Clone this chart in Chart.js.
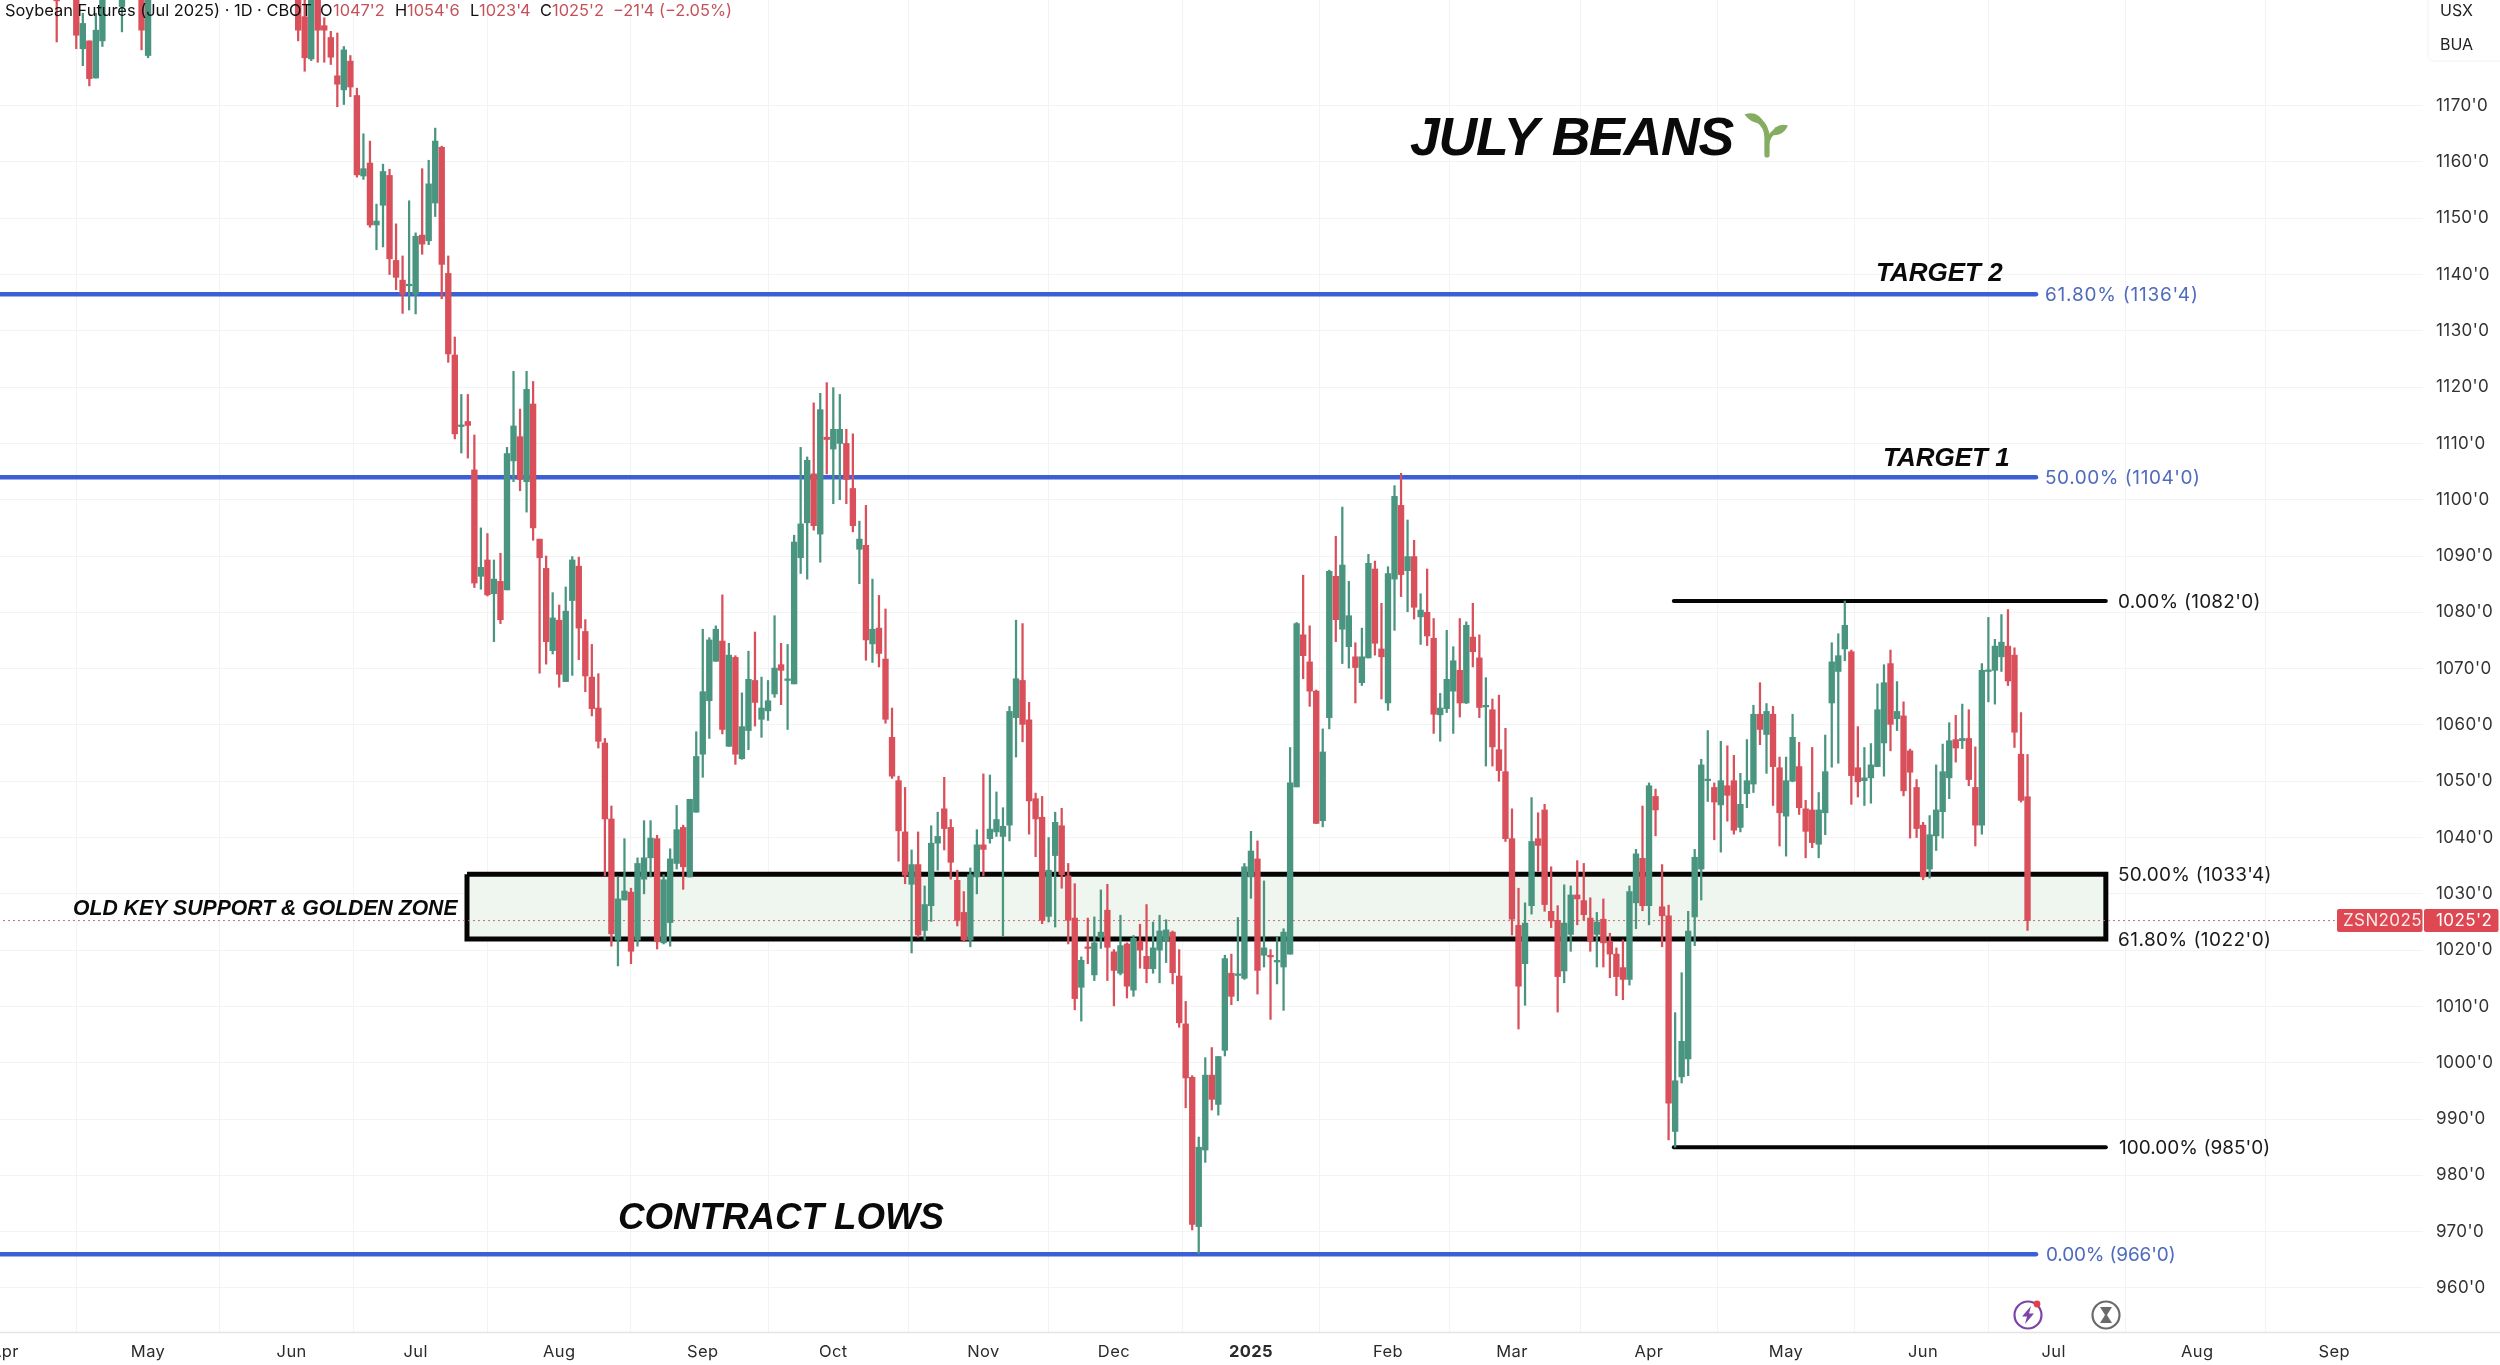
<!DOCTYPE html>
<html>
<head>
<meta charset="utf-8">
<style>html,body{margin:0;padding:0;background:#fff;overflow:hidden}canvas{display:block}</style>
<script src="https://cdn.jsdelivr.net/npm/chart.js@4"></script>
</head>
<body>
<canvas id="c" width="2500" height="1365"></canvas>
<script>
const _ = null;
const opens = [
1192,_,_,1195,1180.1,1181.5,1174.9,1181.5,_,_,
1187.6,_,_,1195,1178.9,_,_,_,_,_,
_,_,_,_,_,_,_,_,_,_,
_,_,_,_,_,_,_,1192,1185.8,1178.3,
1193,1184.2,1182.1,1175.3,1172.8,1177.9,1171.8,1157.5,1159.8,1148.8,
1152.3,1157.6,1142.5,1139,1138,1136.5,1147,1146,1152.7,1162.6,
1140.2,1125.7,1113,1113.9,1105.3,1086.4,1089.3,1083.3,1085.5,1084,
1106.9,1111.2,1103.2,1117,1093,1087.8,1073.2,1078.6,1067.7,1082.1,
1088.2,1076.6,1068.5,1063,1056.8,1043.3,1021.8,1028.9,1030.3,1021.8,
1032.6,1036.4,1039.8,1021.3,1024.9,1035.4,1041.8,1033,1044.5,1054.8,
1064.3,1071.3,1074.9,1056.2,1072,1054,1059,1067.9,1061,1062.5,
1065.5,1070.7,1067.9,1067.3,1089.7,1095.9,1104.6,1093.9,1111.1,1109,
1110,1110,1102,1091.2,1091.9,1074.4,1077.2,1071.7,1057.8,1050.1,
1041,1031.7,1035.2,1023.5,1027.9,1039,1045.1,1041.8,1032.4,1026.7,
1021.8,1033,1038.7,1039.8,1041,1040.2,1042.2,1061.3,1067.9,1060.9,
1046.9,1043.6,1026,1036.8,1042.1,1033.2,1025.7,1013.4,1020.5,1015.6,
1022.3,1027.1,1019.7,1015.9,1021.1,1012.9,1021.6,1018.9,1016.7,1020,
1021.7,1023.2,1015.4,1006.9,997.4,970.9,984.5,997.8,992.6,1002.2,
1015.9,1015.5,1015,1033,1036.2,1019.1,1019,1017.9,1017,1019.3,
1049,1076,1071.2,1066,1043,1061.3,1086.4,1077,1073.9,1072.1,
1067.5,1071.9,1087.7,1073.5,1063.9,1085.9,1099,1087.4,1089.9,1079.2,
1080,1075.4,1061.8,1062.9,1066,1069.7,1063.9,1075.6,1071.9,1063.2,
1062.7,1055.6,1051.7,1039.8,1024.4,1017.6,1027.9,1039.8,1044.9,1026.9,
1025.3,1016.3,1022.8,1029.8,1028.8,1025.7,1022.8,1025.5,1021.6,1019.3,
1016.9,1014.8,1028.4,1036.3,1027.9,1047.3,1027.7,1026.1,987.8,997.5,
1000.7,1025.9,1034.4,1050.1,1048.9,1045.8,1049.2,1050.1,1041.8,1047.8,
1049.5,1061.9,1058.3,1061.9,1052.4,1043.8,1050,1052.6,1045.1,1044.9,
1038.8,1044.4,1063.9,1069.5,1073.5,1073,1052.4,1050.1,1050.6,1052.6,
1056.8,1070.9,1061.1,1061.6,1055.4,1048.9,1042.2,1034.4,1040.3,1044.6,
1050.6,1057.4,1057.2,1057.6,1048.9,1042.2,1069.5,1069.7,1072.1,1074,
1072.4,1054.8,1047.25];
const highs = [
1195,_,_,1198,1186.4,1181.5,1186.4,1195,_,_,
1194,_,_,1197,1197,_,_,_,_,_,
_,_,_,_,_,_,_,_,_,_,
_,_,_,_,_,_,_,1195,1189.5,1195,
1195,1185.6,1183.2,1182.9,1180.5,1178.9,1173.1,1165,1163.7,1152.5,
1159.6,1158.7,1149,1143.3,1153.1,1147.4,1158.8,1160.3,1166,1162.8,
1143.3,1128.9,1118.7,1118.7,1111.5,1095,1094,1089.3,1090.5,1109.3,
1122.8,1116.1,1122.8,1121,1093,1090,1083.5,1081.3,1084.5,1089.9,
1089.8,1078.7,1074.3,1069.1,1057.6,1045.6,1033,1039.8,1031,1036.4,
1043,1043,1040.4,1033.4,1038,1045.7,1042.2,1046.8,1058.8,1077,
1075.5,1077.6,1083.1,1074.5,1072.3,1065.7,1073.1,1076.5,1068.5,1067.9,
1079.4,1074.5,1074.3,1093.7,1109.3,1107.6,1117.2,1118.9,1120.8,1119.9,
1118.7,1112.5,1111.7,1096.2,1099,1085.9,1083,1080.6,1063,1050.9,
1048.9,1037.8,1041,1031.4,1042.1,1044.5,1050.7,1043.2,1034.2,1030.4,
1034.6,1041.4,1051.3,1051.1,1048.1,1045.3,1063.3,1078.6,1078,1064,
1047.9,1047.3,1040,1044.5,1045.2,1035.4,1031.8,1018.8,1025.7,1025.9,
1030.7,1031.7,1020.1,1026.2,1021.3,1022.6,1024.6,1028.1,1025,1026.2,
1025.4,1023.4,1020.1,1010.9,997.7,986.8,1000.9,1002.7,1001.1,1019.1,
1019.3,1025.8,1035.4,1041.1,1039.4,1032.3,1020.1,1022.3,1023.8,1056,
1078.2,1086.6,1077.6,1066.2,1059.3,1087.5,1093.5,1098.7,1085.5,1074.6,
1077.2,1090.3,1089.1,1081.6,1088.1,1102.5,1104.7,1096.4,1092.8,1083.3,
1087.7,1078.9,1065.6,1076.8,1073.9,1078.9,1078.3,1081.6,1076,1068.4,
1064.6,1065.3,1059.4,1045.1,1031,1028.4,1047.1,1044.4,1045.9,1034.8,
1027.9,1031.6,1031.4,1035.9,1035.4,1029.3,1026.7,1029.1,1023,1020.4,
1021.8,1031.4,1037.9,1045.6,1049.7,1048.6,1035.2,1028,1008.9,1016,
1026.9,1037.9,1053.9,1059,1049.7,1057.1,1056.3,1054.6,1051.4,1057.4,
1063.5,1067.5,1063.8,1063.3,1054.3,1054.3,1061.9,1056.9,1046.6,1056,
1048,1058.2,1074.6,1076.2,1082,1073.3,1059.7,1056,1056.7,1067.3,
1070.7,1073.3,1067.7,1064.1,1055.7,1050.3,1042.7,1043.9,1052.9,1056.6,
1060.4,1061.7,1063.7,1062.7,1056.1,1070.9,1079.1,1075.2,1079.6,1080.5,
1073.7,1062.2,1054.75];
const lows = [
1181.3,_,_,1180.1,1177.1,1173.5,1174.9,1180.5,_,_,
1183.1,_,_,1179.9,1178.5,_,_,_,_,_,
_,_,_,_,_,_,_,_,_,_,
_,_,_,_,_,_,_,1181.5,1176.1,1178,
1177.7,1177.7,1177.3,1169.8,1170.2,1171.6,1157.3,1156.9,1148.4,1144.4,
1144.9,1140,1137.3,1133.1,1133.7,1133,1143.6,1145.3,1150.3,1135.7,
1124.4,1110.8,1108.3,1107.4,1084.4,1084.1,1082.9,1074.8,1078,1084,
1103.2,1101.6,1097.8,1092.8,1069.2,1070.8,1072.6,1066.7,1067.7,1068.8,
1071.6,1065.9,1061.6,1055.9,1033.2,1020.7,1017.2,1028.9,1017.6,1020.7,
1030,1033,1020.2,1021.1,1020.7,1034.4,1030.8,1033,1044.5,1050.7,
1057.6,1071.3,1058.4,1056.2,1053,1053.9,1055.6,1059.8,1057.8,1060.8,
1064.9,1063.6,1059.2,1067.3,1086.9,1085.9,1094.6,1088.9,1104.6,1099.3,
1100,1099.3,1094.3,1085.1,1071.5,1071.1,1070.3,1060.3,1050.5,1035.8,
1031.8,1019.5,1022.3,1021.8,1025.1,1034.2,1037.8,1032.6,1024.3,1021.5,
1020.6,1030,1033.2,1039,1040.2,1022.5,1039.4,1054.3,1057,1040.6,
1036.6,1024.7,1025,1024.1,1031,1021.1,1009.4,1007.4,1017.6,1014.6,
1020.3,1014.6,1010.1,1015.6,1011.5,1011.8,1016.8,1014.2,1015.9,1014.2,
1017.8,1014,1006.3,992,970.3,966.1,982.3,991.6,990.7,1001.2,
1010.3,1011,1014.8,1029.2,1012.2,1017,1007.7,1014,1009.3,1019.3,
1049,1068.2,1063.3,1042.5,1041.9,1059.3,1074.8,1070.9,1070.1,1063.9,
1067,1071.9,1072.4,1064.6,1062.6,1076.8,1082.8,1080.1,1078.8,1074.3,
1074.1,1058.5,1057.1,1062.2,1058.5,1061.4,1063.8,1070.3,1061.3,1052.7,
1052.7,1050,1039.3,1022.7,1006,1010.2,1026.4,1034,1026.9,1024,
1009,1014.2,1019.8,1024.5,1025.3,1019.8,1017,1017,1015.1,1011.9,
1011.2,1013.8,1023.8,1027,1024.5,1040.3,1020.6,986.3,985,996.4,
997.7,1020.8,1028.9,1046.4,1039.6,1037.4,1042.9,1040.6,1041,1045.3,
1048,1056.5,1051.4,1045.7,1038.5,1036.7,1049.9,1044.1,1036.4,1038.2,
1036.4,1040.5,1052.5,1053.2,1071.4,1045.9,1047.2,1045.7,1046.1,1052.6,
1050.9,1055.4,1059,1047.4,1039.9,1040,1032.5,1032.8,1037.7,1039.9,
1046.9,1053.4,1055.8,1049.2,1038.5,1040.6,1064.1,1063.7,1069.5,1067,
1056,1046.3,1023.5];
const closes = [
1188.6,_,_,1182.5,1184.6,1174.8,1183.4,1192,_,_,
1192,_,_,1183.4,1195,_,_,_,_,_,
_,_,_,_,_,_,_,_,_,_,
_,_,_,_,_,_,_,1183.4,1178.5,1192,
1183.4,1183.4,1178.6,1173.8,1179.9,1173.3,1157.7,1158.8,1148.8,1149.5,
1158.3,1142.8,1139.5,1136.5,1138.1,1146.8,1145.4,1156.1,1163.7,1141.8,
1125.9,1111.7,1113.2,1113.2,1085.2,1088,1083.1,1085.9,1078.7,1108.2,
1113.1,1103.6,1119.6,1095,1089.7,1074.8,1079,1069,1080.2,1089.3,
1077.2,1068.7,1062.9,1057.1,1043.3,1022.9,1029.1,1030.5,1019.8,1035.4,
1036.4,1039.9,1021.5,1032.5,1036.2,1041.4,1034.8,1046.8,1054.4,1065.9,
1075.1,1077,1059.2,1072.4,1054.8,1059.7,1068.1,1064,1063,1064.3,
1070.1,1069.7,1068,1092.5,1095.7,1107,1095.4,1116,1110.7,1112.5,
1112.5,1103.6,1095.4,1093,1075.1,1077,1072.7,1061,1050.9,1041.2,
1033.3,1035.2,1022.7,1028.1,1039,1040.2,1041.6,1035.6,1025.3,1021.8,
1033.4,1038.7,1037.9,1041.5,1043.2,1042,1062.4,1068.2,1060.1,1046.5,
1043.3,1025.3,1034.2,1042.7,1033.4,1025.3,1011.4,1018.2,1020.3,1021.3,
1023.2,1020.5,1016.4,1020.8,1013.6,1022.1,1020,1016.7,1020.4,1023.4,
1023.6,1016,1007.1,997.3,971.3,985,997.8,993.5,1001.1,1018.5,
1011.8,1015.6,1034.8,1037.6,1016.4,1020.4,1018.8,1018,1023.2,1049.7,
1078,1072.3,1066,1042.5,1055.2,1087.3,1078.7,1088.4,1079.4,1070.2,
1072.1,1088.7,1074.5,1072.1,1086.9,1100.6,1086.7,1089.9,1080.9,1080.4,
1075.8,1061.9,1063,1068.1,1071.4,1063.9,1077.7,1073,1063.1,1063.3,
1056.1,1051.9,1039.8,1025.5,1013.6,1024.8,1039.3,1038.6,1028.1,1025.2,
1015.3,1024.8,1029.8,1029.1,1026.3,1021.6,1025,1021.3,1019.3,1015.3,
1014.8,1030.4,1037.1,1027.9,1049.2,1044.9,1026.1,992.8,996.8,1003.8,
1023.4,1036.5,1052.9,1050.2,1046.3,1050.1,1047.5,1041.3,1045.9,1050.1,
1061.9,1059.2,1062.4,1052.6,1044.4,1050.1,1057.8,1045.3,1041.1,1039.1,
1044.9,1051.7,1071.2,1072.3,1077.7,1051,1049.9,1050.6,1052.9,1062.7,
1067.5,1060.1,1062.4,1048.3,1051.6,1041.6,1033,1040.5,1044.9,1051.7,
1057.2,1055.9,1057.6,1050.3,1042.2,1069.7,1069.6,1074,1074.7,1067.8,
1058.7,1046.6,1025.25];

const monthLabels = ['Apr','May','Jun','Jul','Aug','Sep','Oct','Nov','Dec','2025','Feb','Mar','Apr','May','Jun','Jul','Aug','Sep'];
const monthSessions = [-8,14,36,55,77,99,119,142,162,183,204,223,244,265,286,306,328,349];
const priceTicks = [960,970,980,990,1000,1010,1020,1030,1040,1050,1060,1070,1080,1090,1100,1110,1120,1130,1140,1150,1160,1170];
const blueLevels = [966,1104,1136.5];
const blackLevels = [1082,985];
const zoneLevels = [1033.5,1022];
const lastPrice = 1025.25;

const UP='#4a9580', DOWN='#d9505b';
const ks = opens.map((v,i)=>i).filter(i=>opens[i]!==null);
const colors = ks.map(i=>closes[i]>=opens[i]?UP:DOWN);
const wicks = ks.map(i=>({x:i,y:[lows[i],highs[i]]}));
const bodies = ks.map(i=>({x:i,y:[opens[i],closes[i]]}));
const hline=(y,a,b,color,w)=>({type:'line',data:[{x:a,y},{x:b,y}],borderColor:color,borderWidth:w,pointRadius:0,borderCapStyle:'round',order:4});

const overlay={id:'overlay',
 beforeDraw(chart){chart.ctx.letterSpacing='0.4px';},
 afterDraw(chart){
  const c=chart.ctx; const ya=chart.scales.y;
  c.save();
  c.letterSpacing='0px';
  c.strokeStyle='#e4e4e4';c.lineWidth=1.5;c.beginPath();c.moveTo(0,1332.5);c.lineTo(2500,1332.5);c.stroke();
  c.textBaseline='middle';c.textAlign='left';
  const T=(s,x,y,font,col,ls)=>{c.letterSpacing=(ls||0)+'px';c.font=font;c.fillStyle=col;c.fillText(s,x,y);};
  const INT='"Inter"';
  const BI='italic bold ';const LS='px "Liberation Sans"';
  T('JULY BEANS',1410,140,BI+'53.5'+LS,'#0a0a0a',-1.2);
  T('TARGET 2',1876,273.5,BI+'26'+LS,'#0a0a0a');
  T('TARGET 1',1883,459,BI+'26'+LS,'#0a0a0a');
  T('CONTRACT LOWS',618,1218.5,BI+'36.7'+LS,'#0a0a0a');
  T('OLD KEY SUPPORT & GOLDEN ZONE',73,909,BI+'21.2'+LS,'#0a0a0a');
  const f19='19px '+INT;
  T("61.80% (1136'4)",2045,295,f19,'#4f6bbd',.78);
  T("50.00% (1104'0)",2045,478,f19,'#4f6bbd',.55);
  T("0.00% (966'0)",2046,1255,f19,'#4f6bbd',-.15);
  T("0.00% (1082'0)",2118,602,f19,'#1a1a1a',.25);
  T("50.00% (1033'4)",2118,875,f19,'#1a1a1a',.25);
  T("61.80% (1022'0)",2118,940,f19,'#1a1a1a',.45);
  T("100.00% (985'0)",2119,1148,f19,'#1a1a1a',.03);
  // header
  const f16='16.4px '+INT,red='#c4525a',blk='#111';
  T('Soybean Futures (Jul 2025) · 1D · CBOT',5,11,f16,blk);
  [['O',320,"1047'2",333],['H',395,"1054'6",407],['L',470,"1023'4",479],['C',540,"1025'2",552]].forEach(a=>{T(a[0],a[1],11,f16,blk);T(a[2],a[3],11,f16,red);});
  T("−21'4 (−2.05%)",613,11,f16,red);
  // currency chip
  c.fillStyle='rgba(255,255,255,.95)';c.strokeStyle='#f1f1f1';c.lineWidth=1;
  c.beginPath();c.roundRect(2428,-6,80,67,5);c.fill();c.stroke();
  T('USX',2440,11,'16px '+INT,'#222');T('BUA',2440,45,'16px '+INT,'#222');
  // price tags
  const py=ya.getPixelForValue(lastPrice);
  c.fillStyle='#dd4852';
  c.beginPath();c.roundRect(2337,py-11.5,85.5,23,2);c.fill();
  c.beginPath();c.roundRect(2424,py-11.5,74.5,23,2);c.fill();
  T('ZSN2025',2343,py+.5,'17px '+INT,'#fbe9ea',.4);
  T("1025'2",2436,py+.5,'17px '+INT,'#fff',.4);
  // seedling
  c.fillStyle='#84ad62';c.strokeStyle='#84ad62';
  c.lineWidth=5.2;c.lineCap='round';c.beginPath();c.moveTo(1767,155);c.lineTo(1767,138);c.quadraticCurveTo(1767,126,1758,120);c.stroke();
  c.lineWidth=4;c.beginPath();c.moveTo(1767,145);c.quadraticCurveTo(1769,134,1776,131);c.stroke();
  c.beginPath();c.moveTo(1744.5,114.5);c.quadraticCurveTo(1758,110,1764,123);c.quadraticCurveTo(1752,125,1744.5,114.5);c.fill();
  c.beginPath();c.moveTo(1788,125.5);c.quadraticCurveTo(1776,122,1770,135);c.quadraticCurveTo(1783,137,1788,125.5);c.fill();
  // bottom icons
  c.lineWidth=2.2;c.strokeStyle='#7a44a8';c.beginPath();c.arc(2028,1315,13.5,0,Math.PI*2);c.stroke();
  c.fillStyle='#7a44a8';c.beginPath();c.moveTo(2031,1306);c.lineTo(2022,1316.5);c.lineTo(2027,1316.5);c.lineTo(2025,1324);c.lineTo(2034,1313.5);c.lineTo(2029,1313.5);c.closePath();c.fill();
  c.fillStyle='#e0414b';c.beginPath();c.arc(2037,1304,3.4,0,Math.PI*2);c.fill();
  c.strokeStyle='#6a6a6a';c.beginPath();c.arc(2106,1315,13.5,0,Math.PI*2);c.stroke();
  c.fillStyle='#6a6a6a';c.beginPath();c.moveTo(2100,1307);c.lineTo(2112,1307);c.lineTo(2107,1315);c.lineTo(2112,1323);c.lineTo(2100,1323);c.lineTo(2105,1315);c.closePath();c.fill();
  c.restore();
}};

new Chart(document.getElementById('c'),{
  type:'bar',
  data:{datasets:[
    {type:'bar',data:bodies,backgroundColor:colors,barThickness:5.7,minBarLength:1.6,grouped:false,order:1},
    {type:'bar',data:wicks,backgroundColor:colors,barThickness:1.6,grouped:false,order:2},
    {type:'line',data:[{x:-9,y:lastPrice},{x:349.1,y:lastPrice}],borderColor:'#c96a70',borderWidth:1,borderDash:[2,3],pointRadius:0,order:3},
    ...blueLevels.map(v=>hline(v,-9,303.3,'#3d5fd6',4.5)),
    ...blackLevels.map(v=>hline(v,247.8,314,'#050505',4)),
    {type:'line',data:[{x:62.87,y:zoneLevels[0]},{x:314,y:zoneLevels[0]},{x:314,y:zoneLevels[1]},{x:62.87,y:zoneLevels[1]},{x:62.87,y:zoneLevels[0]}],
     borderColor:'#050505',borderWidth:5,backgroundColor:'#eff6ef',fill:'shape',pointRadius:0,tension:0,borderJoinStyle:'miter',order:5}
  ]},
  plugins:[overlay],
  options:{
    responsive:false,animation:false,devicePixelRatio:1,
    layout:{padding:0},
    plugins:{legend:{display:false},tooltip:{enabled:false}},
    events:[],
    scales:{
      x:{type:'linear',min:-8.69,max:362.6,offset:false,
        afterBuildTicks(s){s.ticks=monthSessions.map(v=>({value:v}));},
        afterFit(s){s.height=32;s.paddingLeft=0;s.paddingRight=0;},
        grid:{color:ctx=>(ctx.tick&&monthSessions.includes(ctx.tick.value))?'#f3f3f3':'rgba(0,0,0,0)',lineWidth:1,drawTicks:false},
        border:{display:false},
        ticks:{autoSkip:false,maxRotation:0,padding:9,color:'#2a2a2a',
          font:ctx=>({family:'Inter',size:16.5,weight:(ctx.tick&&ctx.tick.value===183)?'bold':'normal'}),
          callback:(v)=>monthLabels[monthSessions.indexOf(v)]}
      },
      y:{type:'linear',position:'right',min:952,max:1188.76,
        afterBuildTicks(s){s.ticks=priceTicks.map(v=>({value:v}));},
        afterFit(s){s.width=77;s.paddingTop=0;s.paddingBottom=0;},
        grid:{color:'#f3f3f3',lineWidth:1,drawTicks:false},
        border:{display:false},
        ticks:{padding:13,crossAlign:'near',color:'#333',font:{family:'Inter',size:17},
          callback:v=>v+"'0"}
      }
    }
  }
});
</script>
</body>
</html>
